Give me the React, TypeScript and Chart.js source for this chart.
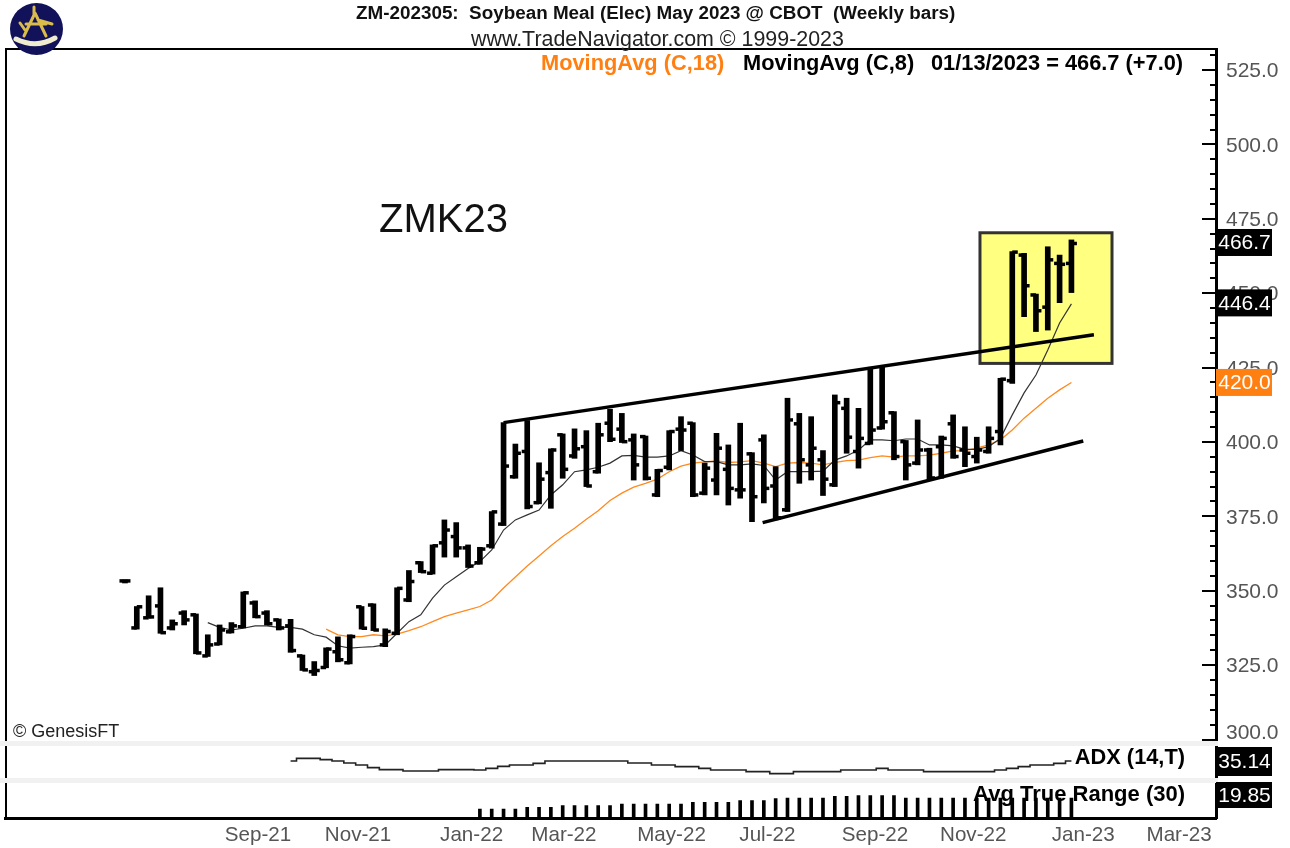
import React, { useEffect, useRef } from "react";
import { Chart, registerables } from "chart.js";

Chart.register(...registerables);

// ---- Weekly OHLC (week 0 = first bar, week 80 = 01/13/2023) ----
const opens = [353.3,337.5,340.9,344.9,337.5,342.5,341.9,328.1,332.1,336.2,337.9,345.9,342.5,340.2,338.2,328.1,322.8,324.2,329.5,325.8,344.6,345.2,331.8,335.7,346.9,359.4,355.9,366.1,368.2,364.4,359.4,365.1,372.4,388.3,396.8,379.6,389.7,402.4,395.3,398.4,390.0,406.3,404.3,400.7,401.8,382.2,391.5,404.3,406.3,382.8,387.2,390.8,383.9,396.0,400.7,385.2,377.2,406.1,392.3,394.0,385.6,411.3,396.8,399.5,404.7,409.8,400.1,392.9,397.3,398.4,406.1,397.3,395.1,396.8,403.5,420.6,462.8,449.4,445.3,460.0,460.0];
const highs = [353.6,344.7,348.3,351.0,340.2,343.3,342.2,335.2,338.5,339.3,349.6,346.6,343.3,340.5,340.4,328.4,326.2,330.8,334.5,335.2,344.7,345.6,337.2,351.0,356.8,359.8,365.4,373.8,372.9,365.4,364.6,376.6,406.5,399.3,407.2,393.0,397.7,402.7,404.4,403.8,406.3,411.0,409.6,402.7,402.0,390.8,403.8,408.5,406.5,392.9,402.9,399.0,406.3,396.4,402.4,391.7,414.7,409.6,408.5,397.1,415.8,414.7,411.3,425.1,425.3,410.2,400.5,407.4,397.9,402.0,409.1,405.1,401.6,405.1,421.4,464.0,463.4,449.7,465.6,462.8,467.9];
const lows = [352.6,337.1,340.8,335.7,336.8,338.5,328.8,327.9,331.8,335.8,337.5,340.9,338.5,336.8,329.3,323.2,321.5,324.1,326.1,325.4,337.1,336.6,331.2,335.2,346.3,356.1,355.6,361.3,361.3,357.8,358.9,364.3,371.9,387.8,377.5,379.2,377.7,387.8,394.5,385.0,389.5,400.1,399.8,387.2,387.2,381.6,390.6,397.1,381.6,382.2,382.2,378.8,381.1,373.2,379.5,373.8,376.6,386.1,387.2,382.0,385.0,396.2,391.2,399.2,404.3,394.0,387.2,392.3,387.0,387.8,394.5,391.7,392.9,396.2,399.0,419.7,442.1,437.1,437.6,446.8,450.2];
const closes = [353.3,344.6,341.2,335.9,338.9,340.2,329.1,331.8,336.8,338.2,349.3,341.3,338.9,337.5,329.9,323.4,323.2,330.4,326.8,334.6,337.4,336.8,336.3,350.8,353.1,356.4,365.1,370.4,364.4,358.3,364.0,376.5,391.9,396.2,378.3,387.5,397.3,390.8,397.7,385.2,402.4,400.9,400.1,392.3,387.8,390.4,403.5,404.0,382.2,391.2,397.9,384.4,383.9,381.6,384.4,374.5,407.4,394.0,397.9,387.5,413.2,401.6,401.2,404.0,406.8,395.1,392.3,397.3,387.9,401.2,395.1,396.2,397.3,401.2,421.1,463.8,452.5,444.1,461.2,459.7,466.7];

// ---- Moving averages ----
const ma8Start = 7;
const ma8 = [339.3,337.7,336.8,337.4,338.2,338.2,337.7,337.7,337.1,335.2,334.4,331.5,330.7,331.0,331.2,331.8,335.7,339.6,341.9,347.5,351.9,354.7,357.5,359.8,363.7,370.4,373.8,375.5,377.1,382.2,385.6,390.0,390.6,391.5,392.9,395.3,395.5,394.9,394.9,395.3,397.1,395.6,393.4,393.4,392.3,392.3,392.6,392.1,387.2,390.0,390.0,390.0,390.2,393.9,395.3,397.3,400.7,400.7,400.4,401.0,401.0,399.0,399.0,398.7,397.5,397.5,398.4,401.2,409.1,416.5,422.5,430.9,440.0,446.4];
const ma18Start = 17;
const ma18 = [337.1,335.2,334.6,334.6,335.2,334.8,335.4,336.6,337.9,339.6,341.3,342.5,343.6,344.7,346.9,350.9,354.6,358.3,361.7,365.1,368.2,371.0,374.0,376.9,380.3,382.8,384.8,386.1,387.5,390.0,391.9,392.9,393.3,393.6,393.1,393.3,393.7,392.9,391.7,392.9,393.1,392.9,392.3,393.1,393.7,393.9,394.7,395.3,394.9,395.3,395.3,395.6,396.2,397.0,397.1,397.9,399.0,400.7,404.0,408.0,411.3,414.7,417.5,420.0];

// ---- Lower panels ----
const adxStart = 14;
const adx = [35.1,37.8,37.8,36.5,35.1,33.1,31.1,28.5,26.5,26.5,25.1,25.1,25.1,26.5,26.5,26.5,26.1,27.8,29.8,31.1,31.1,32.8,35.1,35.1,35.1,35.1,35.1,35.1,35.1,33.1,33.1,31.1,31.1,29.5,29.5,27.8,26.1,26.1,26.1,24.5,24.5,22.5,22.5,24.5,24.5,24.5,24.5,26.1,26.1,26.1,27.8,26.1,26.1,26.1,24.5,24.5,24.5,24.5,24.5,24.5,26.1,27.8,29.5,31.1,31.1,32.8,35.14];
const atrStart = 30;
const atr = [9,9,9,9,10.7,10.7,10.7,12.3,12.3,12.3,12.3,12.3,14,14,14,14,14,14,15.7,15.7,15.7,15.7,17.3,17.3,17.3,19.3,20,20,20,20,21.7,21.7,22.3,22.3,22.3,22.3,20,20,20,20,20,20,20,20,20,20,20,20,20,20,19.85];

// ---- Trend lines and the highlight box (week, price) ----
const resistanceLine = [{ x: 32, y: 406.5 }, { x: 81.9, y: 436 }];
const supportLine = [{ x: 53.9, y: 372.9 }, { x: 81, y: 400.3 }];
const boxWeeks = [72.27, 83.43];
const boxPrices = [426.4, 470.3];

// ---- Axis labels ----
const monthLabels = ["Sep-21","Nov-21","Jan-22","Mar-22","May-22","Jul-22","Sep-22","Nov-22","Jan-23","Mar-23"];
const monthWeeks = [11.24,19.7,29.3,37.1,46.2,54.3,63.4,71.7,81,89.1];

const titleText = "ZM-202305:  Soybean Meal (Elec) May 2023 @ CBOT  (Weekly bars)";
const subtitleText = "www.TradeNavigator.com \u00A9 1999-2023";

const FONT = "'Liberation Sans', Arial, sans-serif";
const at = (start: number, arr: number[]) => arr.map((y, i) => ({ x: start + i, y }));

const overlay = {
  id: "overlay",
  beforeDatasetsDraw(chart: any) {
    const { ctx, scales } = chart;
    const x0 = scales.x.getPixelForValue(boxWeeks[0]);
    const x1 = scales.x.getPixelForValue(boxWeeks[1]);
    const y0 = scales.y.getPixelForValue(boxPrices[1]);
    const y1 = scales.y.getPixelForValue(boxPrices[0]);
    ctx.save();
    ctx.fillStyle = "#ffff80";
    ctx.fillRect(x0, y0, x1 - x0, y1 - y0);
    ctx.strokeStyle = "#333333";
    ctx.lineWidth = 3;
    ctx.strokeRect(x0, y0, x1 - x0, y1 - y0);
    ctx.restore();
  },
  afterDatasetsDraw(chart: any) {
    const { ctx, scales } = chart;
    const right = chart.chartArea.right;
    ctx.save();

    // light bands between panels
    ctx.fillStyle = "#f1f1f1";
    ctx.fillRect(0, 741, right + 2, 5);
    ctx.fillRect(0, 778, right + 2, 5);

    // frame
    ctx.fillStyle = "#000";
    ctx.fillRect(5, 48, right - 5, 2);
    ctx.fillRect(5, 49, 2, 692);
    ctx.fillRect(5, 746, 2, 32);
    ctx.fillRect(5, 783, 2, 35);

    // logo
    ctx.fillStyle = "#12125a";
    ctx.beginPath();
    ctx.ellipse(36.5, 29, 26.5, 26, 0, 0, Math.PI * 2);
    ctx.fill();
    ctx.strokeStyle = "#d9bc4c";
    ctx.lineWidth = 3;
    ctx.lineCap = "round";
    ctx.beginPath();
    ctx.moveTo(35, 13); ctx.lineTo(24, 36);
    ctx.moveTo(35, 13); ctx.lineTo(46, 36);
    ctx.moveTo(26, 24); ctx.lineTo(46, 24);
    ctx.moveTo(38, 20); ctx.lineTo(52, 24);
    ctx.moveTo(34, 7); ctx.lineTo(34, 15);
    ctx.moveTo(20, 23); ctx.lineTo(25, 30);
    ctx.stroke();
    ctx.strokeStyle = "#efeccf";
    ctx.lineWidth = 5;
    ctx.beginPath();
    ctx.moveTo(16, 39); ctx.quadraticCurveTo(36, 49, 55, 38);
    ctx.stroke();
    ctx.lineCap = "butt";

    // axis marks, taken from the price scale's ticks
    ctx.lineWidth = 2;
    ctx.strokeStyle = "#000";
    for (const t of scales.y.ticks) {
      const py = Math.round(scales.y.getPixelForValue(t.value));
      const len = t.value % 25 === 0 ? 14 : 6;
      ctx.beginPath();
      ctx.moveTo(right - len, py);
      ctx.lineTo(right, py);
      ctx.stroke();
    }

    // value badges
    const badge = (cy: number, h: number, bg: string, text: string) => {
      ctx.fillStyle = bg;
      ctx.fillRect(1216, cy - h / 2, 56, h);
      ctx.fillStyle = "#fff";
      ctx.font = `21px ${FONT}`;
      ctx.textAlign = "center";
      ctx.textBaseline = "middle";
      ctx.fillText(text, 1244.5, cy + 1);
    };
    const lastClose = closes[closes.length - 1];
    const lastMa8 = ma8[ma8.length - 1];
    const lastMa18 = ma18[ma18.length - 1];
    badge(scales.y.getPixelForValue(lastClose) - 1, 27, "#000", lastClose.toFixed(1));
    badge(scales.y.getPixelForValue(lastMa8) - 1, 27, "#000", lastMa8.toFixed(1));
    badge(scales.y.getPixelForValue(lastMa18), 27, "#ff7f11", lastMa18.toFixed(1));
    badge(761.5, 29, "#000", adx[adx.length - 1].toFixed(2));
    badge(795, 26, "#000", atr[atr.length - 1].toFixed(2));

    // texts
    const text = (s: string, x: number, y: number, font: string, color: string, align: CanvasTextAlign) => {
      ctx.font = font;
      ctx.fillStyle = color;
      ctx.textAlign = align;
      ctx.textBaseline = "middle";
      ctx.fillText(s, x, y);
    };
    text(titleText, 356, 14, `bold 18.85px ${FONT}`, "#111", "left");
    text(subtitleText, 471, 40, `21.4px ${FONT}`, "#222", "left");
    text("MovingAvg (C,18)", 541, 64, `bold 21.8px ${FONT}`, "#ff7f11", "left");
    text("MovingAvg (C,8)", 743, 64, `bold 21.8px ${FONT}`, "#000", "left");
    text("01/13/2023 = 466.7 (+7.0)", 931, 64, `bold 21.8px ${FONT}`, "#000", "left");
    text("ZMK23", 379, 221, `40px ${FONT}`, "#111", "left");
    text("\u00A9 GenesisFT", 13, 732, `18px ${FONT}`, "#222", "left");
    text("ADX (14,T)", 1185, 758, `bold 21.8px ${FONT}`, "#000", "right");
    text("Avg True Range (30)", 1185, 795, `bold 22px ${FONT}`, "#000", "right");
    ctx.restore();
  },
};

const fixWidth = (s: any) => { s.width = 74; };

export default function App() {
  const ref = useRef<HTMLCanvasElement>(null);
  useEffect(() => {
    const weeks = highs.map((_, i) => i);
    const chart = new Chart(ref.current as HTMLCanvasElement, {
      type: "bar",
      data: {
        datasets: [
          { type: "line", data: resistanceLine, yAxisID: "y", borderColor: "#000", borderWidth: 3.5, pointRadius: 0, order: 1 },
          { type: "line", data: supportLine, yAxisID: "y", borderColor: "#000", borderWidth: 3.5, pointRadius: 0, order: 1 },
          { type: "line", data: weeks.map((k) => ({ x: k, y: opens[k] })), yAxisID: "y", showLine: false, pointStyle: "dash", pointRadius: 5.5, pointRotation: 180, pointBorderWidth: 3.5, pointBorderColor: "#000", order: 2 },
          { type: "line", data: weeks.map((k) => ({ x: k, y: closes[k] })), yAxisID: "y", showLine: false, pointStyle: "dash", pointRadius: 5.5, pointRotation: 0, pointBorderWidth: 3.5, pointBorderColor: "#000", order: 2 },
          { type: "bar", data: weeks.map((k) => ({ x: k, y: [lows[k], highs[k]] })), yAxisID: "y", backgroundColor: "#000", barThickness: 5, grouped: false, order: 3 },
          { type: "line", data: at(ma8Start, ma8), yAxisID: "y", borderColor: "#333", borderWidth: 1.2, pointRadius: 0, order: 4 },
          { type: "line", data: at(ma18Start, ma18), yAxisID: "y", borderColor: "#ff8a1f", borderWidth: 1.3, pointRadius: 0, order: 5 },
          { type: "line", data: at(adxStart, adx), yAxisID: "yAdx", borderColor: "#222", borderWidth: 1.6, pointRadius: 0, stepped: "middle", order: 6 },
          { type: "bar", data: at(atrStart, atr), yAxisID: "yAtr", backgroundColor: "#000", barThickness: 3, grouped: false, order: 7 },
        ] as any,
      },
      options: {
        responsive: false,
        animation: false,
        events: [],
        layout: { padding: { left: 5, top: 49, right: 0, bottom: 0 }, autoPadding: false },
        plugins: { legend: { display: false }, tooltip: { enabled: false }, title: { display: false } },
        scales: {
          x: {
            type: "linear",
            min: -10.14,
            max: 92.22,
            offset: false,
            grid: { display: false, drawTicks: false, offset: false },
            border: { display: true, color: "#000", width: 3 },
            afterBuildTicks: (s: any) => { s.ticks = monthWeeks.map((value) => ({ value })); },
            afterFit: (s: any) => { s.height = 30; },
            ticks: {
              autoSkip: false,
              maxRotation: 0,
              padding: 5,
              color: "#555",
              font: { family: FONT, size: 20.6 },
              callback: (_v: any, i: number) => monthLabels[i],
            },
          },
          y: {
            type: "linear",
            position: "right",
            stack: "panels",
            stackWeight: 692,
            min: 299.5,
            max: 532.06,
            beginAtZero: false,
            grid: { display: false, drawTicks: false },
            border: { display: true, color: "#000", width: 3 },
            afterFit: fixWidth,
            ticks: {
              stepSize: 5,
              includeBounds: false,
              autoSkip: false,
              padding: 10,
              labelOffset: 1.5,
              color: "#555",
              font: (c: any) => ({ family: FONT, size: 21, lineHeight: c.tick && c.tick.value === 300 ? 0.7 : 1.2 }),
              callback: (v: any) => (v === 300 ? ["300.0", ""] : v % 25 === 0 ? Number(v).toFixed(1) : ""),
            },
          },
          yAdx: {
            type: "linear",
            position: "right",
            stack: "panels",
            stackWeight: 36.5,
            min: 18.64,
            max: 55.14,
            grid: { display: false, drawTicks: false },
            border: { display: true, color: "#000", width: 3 },
            afterFit: fixWidth,
            ticks: { display: false },
          },
          yAtr: {
            type: "linear",
            position: "right",
            stack: "panels",
            stackWeight: 40.5,
            min: 0,
            max: 40.5,
            grid: { display: false, drawTicks: false },
            border: { display: true, color: "#000", width: 3 },
            afterFit: fixWidth,
            ticks: { display: false },
          },
        },
      } as any,
      plugins: [overlay],
    });
    return () => chart.destroy();
  }, []);
  return (
    <canvas
      ref={ref}
      width={1290}
      height={848}
      style={{ position: "fixed", left: 0, top: 0, width: 1290, height: 848, background: "#fff" }}
    />
  );
}
